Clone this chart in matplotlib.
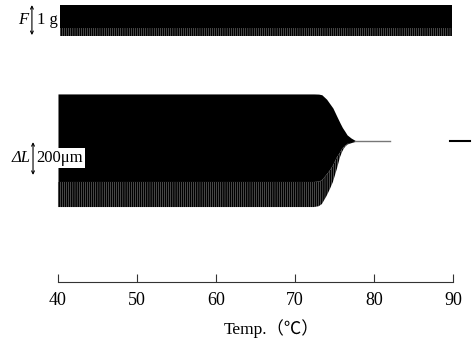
import matplotlib.pyplot as plt

plt.rcParams['font.family'] = ['Liberation Serif', 'Noto Sans CJK JP', 'DejaVu Serif']
plt.rcParams['hatch.linewidth'] = 1.3

# 张力 F (g)：40~90 ℃ 连续记录的包络
f_temp = [40.2, 89.9]
f_top = [1.03, 1.03]
f_fringe = [0.27, 0.27]   # 底部毛边（条纹）区上缘
f_bottom = [0.0, 0.0]

# 长度变化 ΔL (μm) 的包络
l_temp = [40.0, 72.4, 73.0, 73.4, 74.0, 74.4, 74.8, 75.3, 75.7, 76.0, 76.3, 76.6, 77.1, 77.6]
l_upper = [287, 287, 286, 282, 255, 228, 201, 150, 110, 82, 60, 37, 18, 4]
l_fringe = [-250, -250, -248, -240, -205, -180, -150, -100, -70, -45, -30, -18, -10, -3]
l_lower = [-403, -403, -398, -385, -335, -295, -250, -170, -98, -62, -37, -20, -10, -4]

# 收缩结束后的基线
tail_temp = [77.6, 82.0]
tail_val = [0, 0]
end_temp = [89.6, 92.2]
end_val = [0, 0]

ticks = [40, 50, 60, 70, 80, 90]
xlim = (32.66, 93.04)

fig = plt.figure(figsize=(4.77, 3.39), dpi=100)

# F 记录
ax_f = fig.add_axes([0, 1 - 45 / 339, 1, 45 / 339])
ax_f.set_xlim(xlim)
ax_f.set_ylim(-0.3, 1.2)
ax_f.fill_between(f_temp, f_fringe, f_top, color='black', lw=0)
ax_f.fill_between(f_temp, f_bottom, f_fringe, facecolor='white', edgecolor='black',
                  hatch='||||||||', lw=0)
ax_f.annotate('', xy=(36.7, 0.03), xytext=(36.7, 1.03),
              arrowprops=dict(arrowstyle='<->', lw=0.8, mutation_scale=5, shrinkA=0, shrinkB=0))
ax_f.text(35.6, 0.55, 'F', style='italic', fontsize=12, ha='center', va='center')
ax_f.text(37.4, 0.55, '1 g', fontsize=12, ha='left', va='center')
ax_f.axis('off')

# ΔL 记录
ax_l = fig.add_axes([0, 1 - 230 / 339, 1, 150 / 339])
ax_l.set_xlim(xlim)
ax_l.set_ylim(-543, 372)
ax_l.fill_between(l_temp, l_fringe, l_upper, color='black', lw=0)
ax_l.fill_between(l_temp, l_lower, l_fringe, facecolor='white', edgecolor='black',
                  hatch='||||||||', lw=0)
ax_l.plot(tail_temp, tail_val, color='#777777', lw=1.0)
ax_l.plot(end_temp, end_val, color='black', lw=1.5)
ax_l.annotate('', xy=(36.84, -207), xytext=(36.84, -7),
              arrowprops=dict(arrowstyle='<->', lw=0.8, mutation_scale=5, shrinkA=0, shrinkB=0))
ax_l.text(36.5, -105, 'ΔL', style='italic', fontsize=12, ha='right', va='center')
ax_l.text(37.3, -105, '200μm', fontsize=12, ha='left', va='center',
          bbox=dict(facecolor='white', edgecolor='none', pad=1.5))
ax_l.axis('off')

# 温度轴
ax_t = fig.add_axes([0, 1 - 282 / 339, 1, 0.02])
ax_t.set_xlim(xlim)
for s in ['top', 'left', 'right']:
    ax_t.spines[s].set_visible(False)
ax_t.spines['bottom'].set_bounds(40, 90)
ax_t.spines['bottom'].set_color('#333333')
ax_t.spines['bottom'].set_linewidth(0.8)
ax_t.patch.set_visible(False)
ax_t.set_yticks([])
ax_t.set_xticks(ticks)
ax_t.tick_params(axis='x', direction='in', length=6, width=0.8, pad=7,
                 labelsize=13, color='#333333')
fig.text(271 / 477, 1 - 329 / 339, 'Temp.（℃）', fontsize=12.5, ha='center', va='center')

fig.savefig('out.png', dpi=100)
